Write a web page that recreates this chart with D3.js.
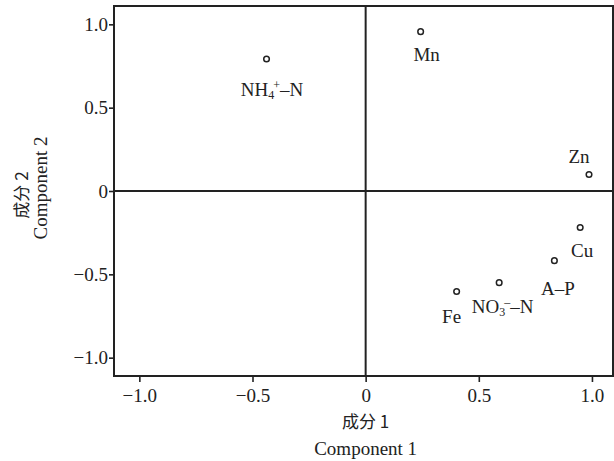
<!DOCTYPE html>
<html>
<head>
<meta charset="utf-8">
<script src="https://cdn.jsdelivr.net/npm/d3@7"></script>
<style>
  body { margin: 0; background: #fff; }
  svg { display: block; }
  text { font-family: "Liberation Serif", "DejaVu Serif", serif; fill: #222; }
  .cjk { font-family: "Noto Sans CJK SC", sans-serif; }
</style>
</head>
<body>
<svg id="chart" width="614" height="461"></svg>
<script>
// loadings
const variables = ["NH4-N", "Mn", "Zn", "Cu", "A-P", "NO3-N", "Fe"]
const comp1 = [-0.438, 0.243, 0.987, 0.948, 0.834, 0.590, 0.402]
const comp2 = [0.792, 0.956, 0.099, -0.219, -0.418, -0.550, -0.603]
const xTicks = [-1.0, -0.5, 0, 0.5, 1.0]
const yTicks = [-1.0, -0.5, 0, 0.5, 1.0]

// label placement relative to the point (center x, baseline y)
const labelOffset = {
  "NH4-N": [5.5, 37], "Mn": [6, 29], "Zn": [-10, -11.5], "Cu": [2, 29.5],
  "A-P": [3.5, 34.5], "NO3-N": [3.5, 30.5], "Fe": [-5, 31.5]
}

const svg = d3.select("#chart")
const plotLeft = 114, plotRight = 613, plotTop = 6, plotBottom = 376

const x = d3.scaleLinear().domain([-1.112, 1.093]).range([plotLeft, plotRight])
const y = d3.scaleLinear().domain([-1.11, 1.11]).range([plotBottom, plotTop])

const fmt = d => d === 0 ? "0" : d3.format(".1f")(d)

// axes
let gx = svg.append("g").attr("transform", "translate(0," + plotBottom + ")")
  .call(d3.axisBottom(x).tickValues(xTicks).tickFormat(fmt).tickSize(6).tickPadding(7))
gx.select(".domain").remove()
gx.selectAll("line").attr("stroke", "#222").attr("stroke-width", 1.6)
gx.selectAll("text").style("font-size", "19px").attr("fill", "#222")

let gy = svg.append("g").attr("transform", "translate(" + plotLeft + ",0)")
  .call(d3.axisLeft(y).tickValues(yTicks).tickFormat(fmt).tickSize(5).tickPadding(1))
gy.select(".domain").remove()
gy.selectAll("line").attr("stroke", "#222").attr("stroke-width", 1.6)
gy.selectAll("text").style("font-size", "19px").attr("fill", "#222")

// frame and zero lines
svg.append("rect")
  .attr("x", plotLeft).attr("y", plotTop)
  .attr("width", plotRight - plotLeft).attr("height", plotBottom - plotTop)
  .attr("fill", "none").attr("stroke", "#222").attr("stroke-width", 2)

svg.append("line")
  .attr("x1", plotLeft).attr("x2", plotRight).attr("y1", y(0)).attr("y2", y(0))
  .attr("stroke", "#222").attr("stroke-width", 2)
svg.append("line")
  .attr("x1", x(0)).attr("x2", x(0)).attr("y1", plotTop).attr("y2", plotBottom)
  .attr("stroke", "#222").attr("stroke-width", 2)

// points
svg.append("g").selectAll("circle")
  .data(variables)
  .enter().append("circle")
  .attr("cx", (d, i) => x(comp1[i]))
  .attr("cy", (d, i) => y(comp2[i]))
  .attr("r", 2.8)
  .attr("fill", "#fff")
  .attr("stroke", "#222")
  .attr("stroke-width", 1.5)

// labels
let labels = svg.append("g").selectAll("text")
  .data(variables)
  .enter().append("text")
  .attr("x", (d, i) => x(comp1[i]) + labelOffset[d][0])
  .attr("y", (d, i) => y(comp2[i]) + labelOffset[d][1])
  .attr("text-anchor", "middle")
  .style("font-size", "19px")

labels.each(function(d) {
  let t = d3.select(this)
  if (d === "NH4-N") {
    t.append("tspan").text("NH")
    t.append("tspan").text("4").style("font-size", "12px").attr("dy", 3)
    t.append("tspan").text("+").style("font-size", "12px").attr("dx", -1).attr("dy", -10)
    t.append("tspan").text("\u2013N").attr("dy", 7)
  } else if (d === "NO3-N") {
    t.append("tspan").text("NO")
    t.append("tspan").text("3").style("font-size", "12px").attr("dy", 3)
    t.append("tspan").text("\u2013").style("font-size", "12px").attr("dx", -1).attr("dy", -10)
    t.append("tspan").text("\u2013N").attr("dy", 7)
  } else if (d === "A-P") {
    t.text("A\u2013P")
  } else {
    t.text(d)
  }
})

// axis titles
svg.append("text").attr("class", "cjk")
  .attr("x", x(0)).attr("y", 420)
  .attr("text-anchor", "middle").attr("dominant-baseline", "central")
  .style("font-size", "17px").text("成分 1")
svg.append("text")
  .attr("x", x(0)).attr("y", 455)
  .attr("text-anchor", "middle")
  .style("font-size", "19px").text("Component 1")

svg.append("text").attr("class", "cjk")
  .attr("transform", "translate(20,195) rotate(-90)")
  .attr("text-anchor", "middle").attr("dominant-baseline", "central")
  .style("font-size", "17px").text("成分 2")
svg.append("text")
  .attr("transform", "translate(47,188) rotate(-90)")
  .attr("text-anchor", "middle")
  .style("font-size", "19px").text("Component 2")
</script>
</body>
</html>
